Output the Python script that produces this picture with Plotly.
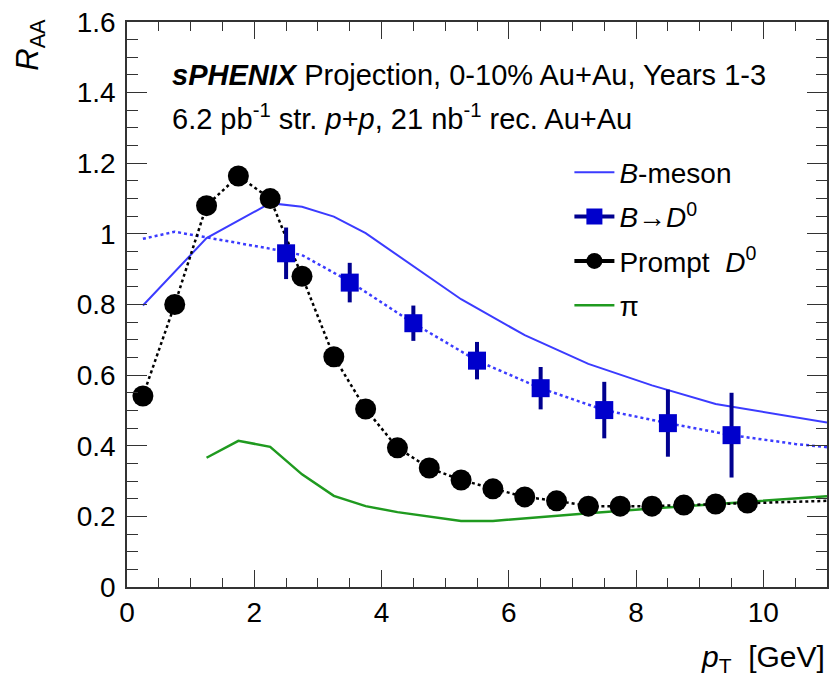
import plotly.graph_objects as go

# Prompt D0 projection points
pt_prompt = [0.25, 0.75, 1.25, 1.75, 2.25, 2.75, 3.25, 3.75, 4.25, 4.75,
             5.25, 5.75, 6.25, 6.75, 7.25, 7.75, 8.25, 8.75, 9.25, 9.75]
raa_prompt = [0.541, 0.80, 1.08, 1.164, 1.10, 0.88, 0.652, 0.504, 0.394, 0.337,
              0.303, 0.278, 0.255, 0.244, 0.229, 0.229, 0.229, 0.232, 0.235, 0.238]
# model curve through the prompt D0 points, continued to the axis end
pt_prompt_tail = [10.25, 10.75, 11.0]
raa_prompt_tail = [0.240, 0.242, 0.244]

# B -> D0 projection points with uncertainties
pt_btod = [2.5, 3.5, 4.5, 5.5, 6.5, 7.5, 8.5, 9.5]
raa_btod = [0.945, 0.862, 0.747, 0.641, 0.563, 0.501, 0.464, 0.43]
err_btod = [0.073, 0.056, 0.05, 0.053, 0.06, 0.08, 0.095, 0.12]

# B -> D0 model curve
pt_btod_curve = [0.25, 0.75, 1.25, 1.75, 2.25, 2.75, 3.5, 4.5, 5.5, 6.5, 7.5, 8.5, 9.5, 10.5, 11.0]
raa_btod_curve = [0.986, 1.006, 0.99, 0.975, 0.958, 0.94, 0.865, 0.747, 0.641, 0.563,
                  0.501, 0.464, 0.43, 0.405, 0.396]

# B-meson model curve
pt_bmeson = [0.25, 1.25, 2.25, 2.75, 3.25, 3.75, 5.25, 6.25, 7.25, 8.25, 9.25, 11.0]
raa_bmeson = [0.797, 0.988, 1.087, 1.077, 1.049, 1.002, 0.815, 0.713, 0.632, 0.571, 0.518, 0.466]

# pion curve
pt_pion = [1.25, 1.75, 2.25, 2.75, 3.25, 3.75, 4.25, 4.75, 5.25, 5.75, 6.25, 7.25, 8.25, 9.25, 10.25, 11.0]
raa_pion = [0.366, 0.414, 0.397, 0.319, 0.258, 0.229, 0.212, 0.2, 0.187, 0.187, 0.195,
            0.209, 0.222, 0.234, 0.247, 0.257]

FONT = "Liberation Sans"
FS = 28
BLUE_LINE = "#3b3bff"
BLUE_MARK = "#0000cc"
NAVY = "#00008f"
GREEN = "#1f9a1f"

fig = go.Figure()

fig.add_trace(go.Scatter(x=pt_bmeson, y=raa_bmeson, mode="lines",
                         line=dict(color=BLUE_LINE, width=2),
                         name="<i>B</i>-meson", legendgroup="a"))
fig.add_trace(go.Scatter(x=pt_btod_curve, y=raa_btod_curve, mode="lines",
                         line=dict(color=BLUE_LINE, width=2.5, dash="dot"),
                         showlegend=False))
fig.add_trace(go.Scatter(x=pt_pion, y=raa_pion, mode="lines",
                         line=dict(color=GREEN, width=2.5),
                         showlegend=False))
fig.add_trace(go.Scatter(x=pt_prompt + pt_prompt_tail, y=raa_prompt + raa_prompt_tail,
                         mode="lines", line=dict(color="black", width=2.5, dash="dot"),
                         showlegend=False))
fig.add_trace(go.Scatter(x=pt_btod, y=raa_btod, mode="markers",
                         marker=dict(symbol="square", size=18, color=BLUE_MARK),
                         error_y=dict(type="data", array=err_btod, color=NAVY,
                                      thickness=4, width=0),
                         showlegend=False))
fig.add_trace(go.Scatter(x=pt_prompt, y=raa_prompt, mode="markers",
                         marker=dict(symbol="circle", size=21, color="black"),
                         showlegend=False))

# legend entries
fig.add_trace(go.Scatter(x=[None], y=[None], mode="lines+markers",
                         line=dict(color=NAVY, width=4),
                         marker=dict(symbol="square", size=18, color=BLUE_MARK),
                         name="<i>B</i>\u2192<i>D</i><sup>0</sup>", legendgroup="b"))
fig.add_trace(go.Scatter(x=[None], y=[None], mode="lines+markers",
                         line=dict(color="black", width=4),
                         marker=dict(symbol="circle", size=18, color="black"),
                         name="Prompt  <i>D</i><sup>0</sup>", legendgroup="c"))
fig.add_trace(go.Scatter(x=[None], y=[None], mode="lines",
                         line=dict(color=GREEN, width=2.5),
                         name="\u03c0", legendgroup="d"))

axis_common = dict(showline=True, linecolor="#333333", linewidth=1.5, mirror="allticks",
                   ticks="inside", tickcolor="#333333", tickwidth=1.2,
                   showgrid=False, zeroline=False,
                   tickfont=dict(family=FONT, size=FS, color="black"))

fig.update_xaxes(range=[0, 11], tick0=0, dtick=2, ticklen=17,
                 minor=dict(dtick=0.5, ticks="inside", ticklen=9, tickcolor="#333333",
                            tickwidth=1.2, showgrid=False),
                 **axis_common)
fig.update_yaxes(range=[0, 1.6], tick0=0, dtick=0.2, ticklen=20,
                 tickvals=[0, 0.2, 0.4, 0.6, 0.8, 1.0, 1.2, 1.4, 1.6],
                 ticktext=["0", "0.2", "0.4", "0.6", "0.8", "1", "1.2", "1.4", "1.6"],
                 minor=dict(dtick=0.05, ticks="inside", ticklen=11, tickcolor="#333333",
                            tickwidth=1.2, showgrid=False),
                 ticklabelstandoff=4,
                 **axis_common)

fig.add_annotation(xref="paper", yref="paper", x=-0.138, y=1.01, xanchor="center",
                   yanchor="top", textangle=-90, showarrow=False,
                   text="<i>R</i><sub>AA</sub>", font=dict(family=FONT, size=31, color="black"))
fig.add_annotation(xref="paper", yref="paper", x=1.0, y=-0.09, xanchor="right",
                   yanchor="top", showarrow=False,
                   text="<i>p</i><sub>T</sub>\u00a0\u00a0[GeV]",
                   font=dict(family=FONT, size=30, color="black"))
fig.add_annotation(xref="paper", yref="paper", x=0.061, y=0.907, xanchor="left",
                   yanchor="middle", showarrow=False,
                   text="<b><i>sPHENIX</i></b> Projection, 0-10% Au+Au, Years 1-3",
                   font=dict(family=FONT, size=29, color="black"))
fig.add_annotation(xref="paper", yref="paper", x=0.061, y=0.832, xanchor="left",
                   yanchor="middle", showarrow=False,
                   text="6.2 pb<sup>-1</sup> str. <i>p</i>+<i>p</i>, 21 nb<sup>-1</sup> rec. Au+Au",
                   font=dict(family=FONT, size=29, color="black"))

fig.update_layout(
    width=832, height=686,
    margin=dict(l=127, r=3, t=22, b=99),
    paper_bgcolor="white", plot_bgcolor="white",
    font=dict(family=FONT, size=FS, color="black"),
    legend=dict(x=0.632, y=0.778, xanchor="left", yanchor="top",
                bgcolor="rgba(0,0,0,0)", font=dict(family=FONT, size=FS),
                tracegroupgap=5, itemwidth=40),
)

fig.write_html("out.html")
